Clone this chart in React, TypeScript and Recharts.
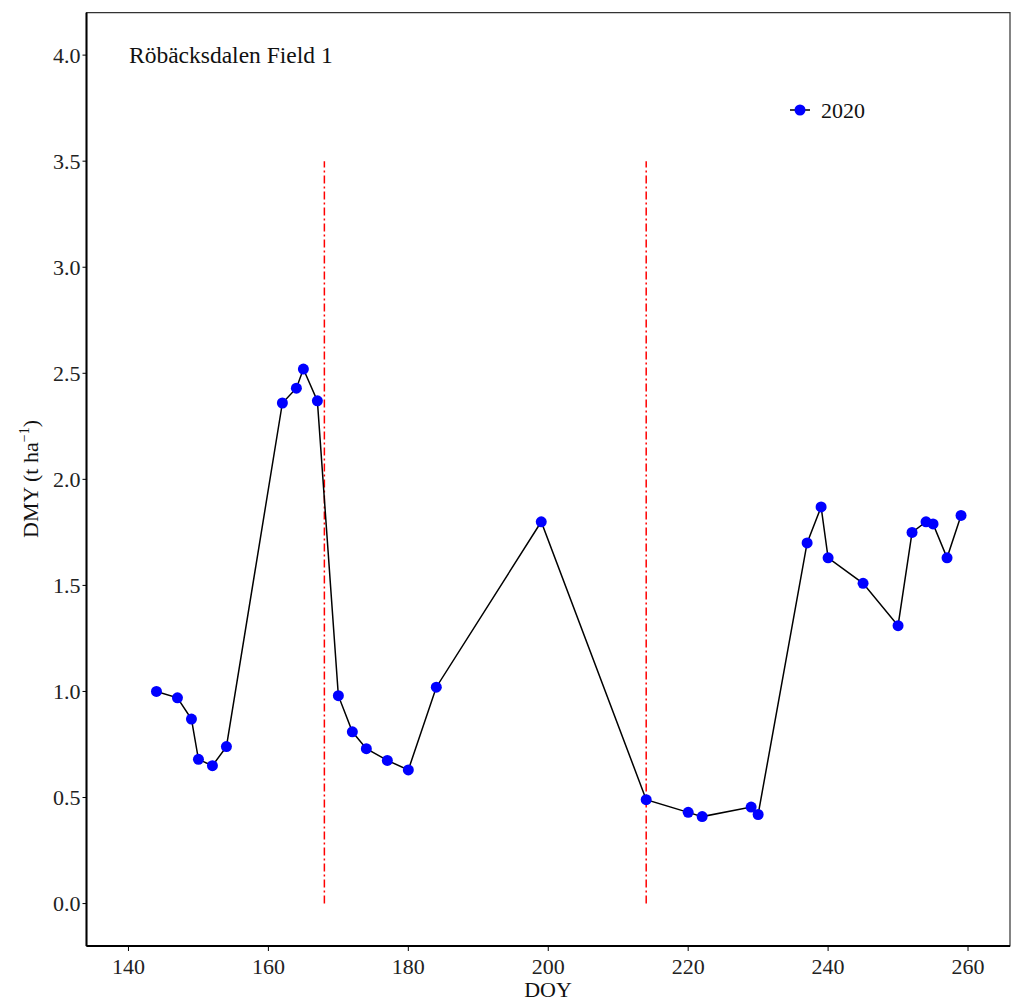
import { LineChart, Line, XAxis, YAxis, ReferenceLine, ReferenceArea, Legend, Customized } from 'recharts';

// DOY of each sampling and dry matter yield (t/ha) for 2020
const doy = [144, 147, 149, 150, 152, 154, 162, 164, 165, 167, 170, 172, 174, 177, 180, 184, 199, 214, 220, 222, 229, 230, 237, 239, 240, 245, 250, 252, 254, 255, 257, 259];
const dmy = [1.0, 0.97, 0.87, 0.68, 0.65, 0.74, 2.36, 2.43, 2.52, 2.37, 0.98, 0.81, 0.73, 0.675, 0.63, 1.02, 1.8, 0.49, 0.43, 0.41, 0.455, 0.42, 1.7, 1.87, 1.63, 1.51, 1.31, 1.75, 1.8, 1.79, 1.63, 1.83];

// harvest dates (dash-dot lines)
const cutDoys = [168, 214];
const cutTop = 3.5;

const xTicks = [140, 160, 180, 200, 220, 240, 260];
const yTicks = [0, 0.5, 1, 1.5, 2, 2.5, 3, 3.5, 4];

const data = doy.map((d, i) => ({ doy: d, dmy: dmy[i] }));

const FONT = '"Liberation Serif", "Times New Roman", serif';

const LegendBox = () => (
  <svg width={90} height={30} style={{ display: 'block' }}>
    <line x1={5} y1={15} x2={25} y2={15} stroke="#000" strokeWidth={1.5} />
    <circle cx={15} cy={15} r={5.5} fill="#0000ff" />
    <text x={36} y={23} fontSize={22} fontFamily={FONT} fill="#111">2020</text>
  </svg>
);

const Labels = () => (
  <g fontFamily={FONT} fill="#111">
    <text x={129} y={63} fontSize={23.5}>Röbäcksdalen Field 1</text>
    <text x={548} y={997} fontSize={22} textAnchor="middle">DOY</text>
    <text x={38} y={479} fontSize={22} textAnchor="middle" transform="rotate(-90 38 479)">
      DMY (t ha<tspan fontSize={14} dy={-9}>−1</tspan><tspan dy={9}>)</tspan>
    </text>
  </g>
);

export default function App() {
  return (
    <div style={{ position: 'absolute', top: 0, left: 0, width: 1013, height: 1003, background: '#fff' }}>
      <LineChart width={1013} height={1003} data={data} margin={{ top: 12.7, right: 3, left: 0, bottom: 0 }}>
        <ReferenceArea x1={134} x2={266} y1={-0.2} y2={4.2} fill="none" stroke="#333" strokeWidth={1.2} ifOverflow="visible" />
        <XAxis
          dataKey="doy"
          type="number"
          domain={[134, 266]}
          ticks={xTicks}
          height={57}
          tickSize={5}
          tickMargin={7}
          axisLine={{ stroke: '#000', strokeWidth: 2 }}
          tickLine={{ stroke: '#000', strokeWidth: 1 }}
          tick={{ fontSize: 22, fontFamily: FONT, fill: '#222' }}
          allowDataOverflow
        />
        <YAxis
          type="number"
          domain={[-0.2, 4.2]}
          ticks={yTicks}
          width={86.5}
          tickSize={4}
          tickMargin={2}
          tickFormatter={(v: number) => v.toFixed(1)}
          axisLine={{ stroke: '#000', strokeWidth: 2 }}
          tickLine={{ stroke: '#000', strokeWidth: 1 }}
          tick={{ fontSize: 22, fontFamily: FONT, fill: '#222' }}
          allowDataOverflow
        />
        {cutDoys.map((c) => (
          <ReferenceLine
            key={c}
            segment={[{ x: c, y: 0 }, { x: c, y: cutTop }]}
            stroke="#ff0000"
            strokeWidth={1.5}
            strokeDasharray="8 3 2 3"
          />
        ))}
        <Line
          dataKey="dmy"
          type="linear"
          stroke="#000"
          strokeWidth={1.5}
          dot={{ r: 5.5, fill: '#0000ff', stroke: 'none' }}
          activeDot={false}
          isAnimationActive={false}
        />
        <Legend
          layout="vertical"
          align="center"
          verticalAlign="middle"
          content={() => <LegendBox />}
          wrapperStyle={{ top: 95, left: 785, width: 90, height: 30 }}
        />
        <Customized component={Labels} />
      </LineChart>
    </div>
  );
}
